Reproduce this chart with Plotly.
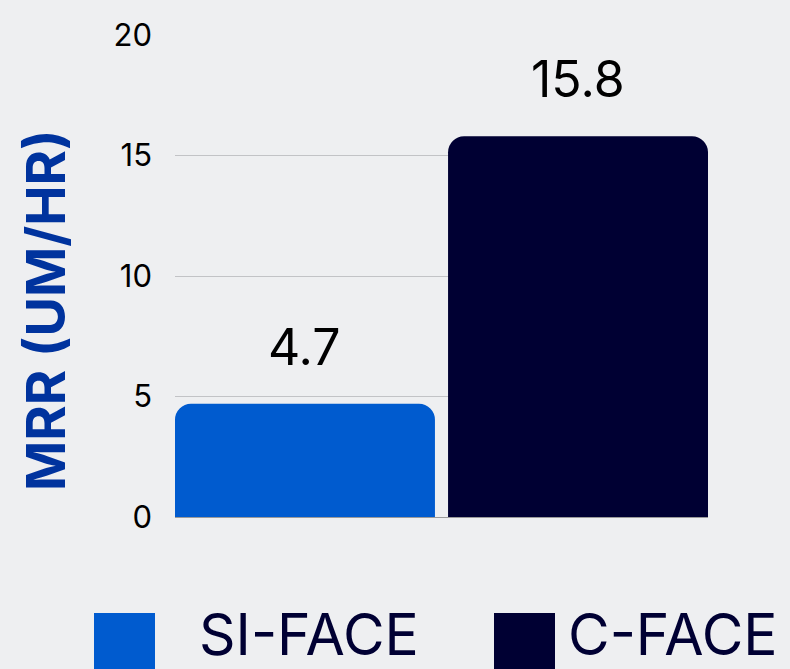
import plotly.graph_objects as go

categories = ["SI-FACE", "C-FACE"]
mrr_values = [4.7, 15.8]
bar_colors = ["#005bcf", "#000033"]
y_ticks = [0, 5, 10, 15, 20]
y_title = "MRR (UM/HR)"

FONT = "Inter, Lato, DejaVu Sans, sans-serif"
BG = "#eeeff1"

fig = go.Figure()
fig.add_trace(go.Bar(
    x=categories,
    y=mrr_values,
    marker=dict(color=bar_colors, cornerradius=16, line=dict(width=0)),
    showlegend=False,
    hoverinfo="x+y",
))

w = 0.952
fig.update_layout(
    width=790, height=669,
    paper_bgcolor=BG, plot_bgcolor=BG,
    margin=dict(l=175, r=82, t=35, b=152),
    bargap=1 - w,
    font=dict(family=FONT, color="#000000"),
    xaxis=dict(
        range=[-w / 2, 1 + w / 2],
        showticklabels=False, showgrid=False, zeroline=False,
        showline=False, fixedrange=True,
    ),
    yaxis=dict(
        range=[0, 20],
        tickvals=y_ticks,
        ticktext=[str(t) for t in y_ticks],
        tickfont=dict(size=31, color="#000000", family=FONT),
        showgrid=True, gridcolor="#c2c3c6", gridwidth=1,
        zeroline=True, zerolinecolor="#9a9a9a", zerolinewidth=1,
        showline=False, ticks="",
        ticklabelstandoff=22,
    ),
)

# value labels above bars
for cat, val in zip(categories, mrr_values):
    fig.add_annotation(
        x=cat, y=val, xref="x", yref="y",
        text=f"{val}", showarrow=False,
        yanchor="bottom", yshift=25,
        font=dict(size=50, color="#000000", family=FONT),
    )

plot_w, plot_h = 533, 482
def px_x(px):
    return (px - 175) / plot_w
def px_y(py):
    return (517 - py) / plot_h

# y-axis title
fig.add_annotation(
    x=px_x(45), xref="paper", xanchor="center",
    y=px_y(311), yref="paper", yanchor="middle",
    text=f"<b>{y_title}</b>", showarrow=False, textangle=-90,
    font=dict(size=54, color="#00339e", family=FONT),
)

# manual legend
legend_sq_x = [94, 494]
legend_txt_x = [198, 567]
for cat, col, sx, tx in zip(categories, bar_colors, legend_sq_x, legend_txt_x):
    fig.add_shape(
        type="rect", xref="paper", yref="paper",
        x0=px_x(sx), x1=px_x(sx + 61), y0=px_y(613), y1=px_y(690),
        fillcolor=col, line=dict(width=0), layer="above",
    )
    fig.add_annotation(
        x=px_x(tx), xref="paper", xanchor="left",
        y=px_y(634), yref="paper", yanchor="middle",
        text=cat, showarrow=False, borderpad=0,
        font=dict(size=57, color="#000033", family=FONT),
    )

fig.write_html(
    "out.html",
    config={"displayModeBar": False},
    post_script="document.body.style.margin='0';document.body.style.overflow='hidden';",
)
